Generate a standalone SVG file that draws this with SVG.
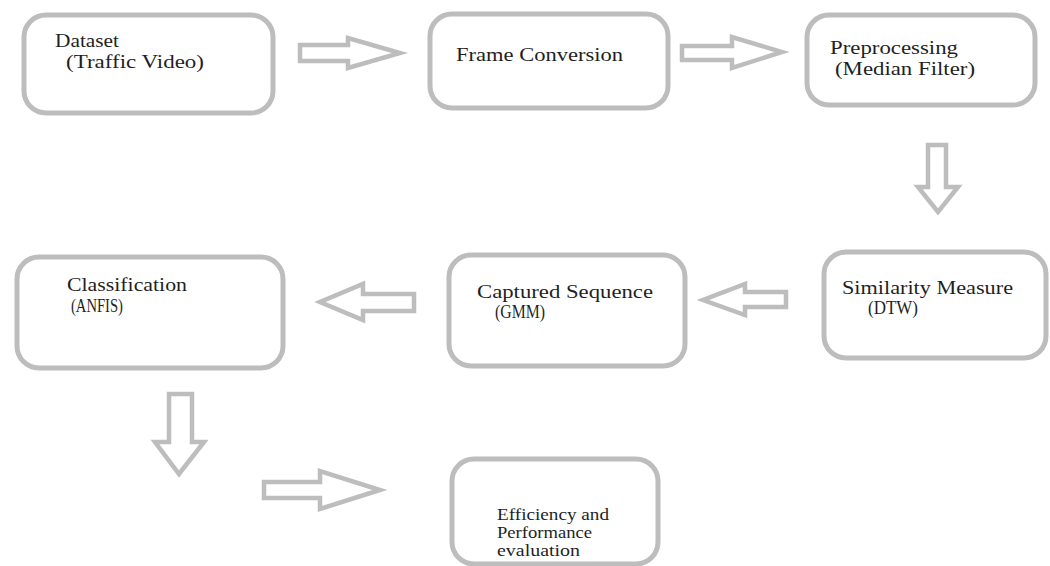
<svg xmlns="http://www.w3.org/2000/svg" width="1050" height="566" viewBox="0 0 1050 566">
<style>
.box{fill:#ffffff;stroke:#bdbdbd;stroke-width:5}
.arr{fill:#ffffff;stroke:#bdbdbd;stroke-width:4.5;stroke-linejoin:miter}
.t{font-family:"Liberation Serif","Times New Roman","DejaVu Serif",serif;font-size:19px;fill:#1f1f1f}
.s{font-size:18px}
.e{font-size:16px}
</style>
<rect width="1050" height="566" fill="#ffffff"/>
<g id="connectors">
<polygon class="arr" points="300,45 348,45 348,38 400,53 348,68 348,61 300,61"/>
<polygon class="arr" points="682,46 732,46 732,37 782,52 732,68 732,60 682,60"/>
<polygon class="arr" points="928,145 946,145 946,187 958,187 938,212 918,187 928,187"/>
<polygon class="arr" points="786,292 745,292 745,284 703,300 745,315 745,307 786,307"/>
<polygon class="arr" points="414,294 363,294 363,284 320,302 363,320 363,311 414,311"/>
<polygon class="arr" points="169,394 192,394 192,442 204,442 179,474 155,442 169,442"/>
<polygon class="arr" points="264,482 320,482 320,471 380,490 320,509 320,498 264,498"/>
</g>
<g id="dataset">
<rect class="box" x="24" y="15" width="249" height="98" rx="22"/>
<text class="t" x="55" y="47" textLength="64" lengthAdjust="spacingAndGlyphs">Dataset</text>
<text class="t" x="66" y="68" textLength="138" lengthAdjust="spacingAndGlyphs">(Traffic Video)</text>
</g>
<g id="frame-conversion">
<rect class="box" x="430" y="14" width="238" height="94" rx="22"/>
<text class="t" x="456" y="61" textLength="167" lengthAdjust="spacingAndGlyphs">Frame Conversion</text>
</g>
<g id="preprocessing">
<rect class="box" x="807" y="15" width="228" height="90" rx="22"/>
<text class="t" x="830" y="54" textLength="128" lengthAdjust="spacingAndGlyphs">Preprocessing</text>
<text class="t" x="835" y="75" textLength="140" lengthAdjust="spacingAndGlyphs">(Median Filter)</text>
</g>
<g id="similarity">
<rect class="box" x="824" y="252" width="222" height="106" rx="22"/>
<text class="t" x="842" y="294" textLength="171" lengthAdjust="spacingAndGlyphs">Similarity Measure</text>
<text class="t s" x="868" y="314" textLength="50" lengthAdjust="spacingAndGlyphs">(DTW)</text>
</g>
<g id="captured">
<rect class="box" x="449" y="255" width="236" height="111" rx="22"/>
<text class="t" x="477" y="298" textLength="176" lengthAdjust="spacingAndGlyphs">Captured Sequence</text>
<text class="t s" x="495" y="318" textLength="50" lengthAdjust="spacingAndGlyphs">(GMM)</text>
</g>
<g id="classification">
<rect class="box" x="17" y="257" width="266" height="111" rx="22"/>
<text class="t" x="67" y="291" textLength="120" lengthAdjust="spacingAndGlyphs">Classification</text>
<text class="t s" x="71" y="312" textLength="52" lengthAdjust="spacingAndGlyphs">(ANFIS)</text>
</g>
<g id="evaluation">
<rect class="box" x="452" y="459" width="206" height="105" rx="22"/>
<text class="t e" x="497" y="520" textLength="112" lengthAdjust="spacingAndGlyphs">Efficiency and</text>
<text class="t e" x="497" y="538" textLength="95" lengthAdjust="spacingAndGlyphs">Performance</text>
<text class="t e" x="497" y="556" textLength="83" lengthAdjust="spacingAndGlyphs">evaluation</text>
</g>
</svg>
